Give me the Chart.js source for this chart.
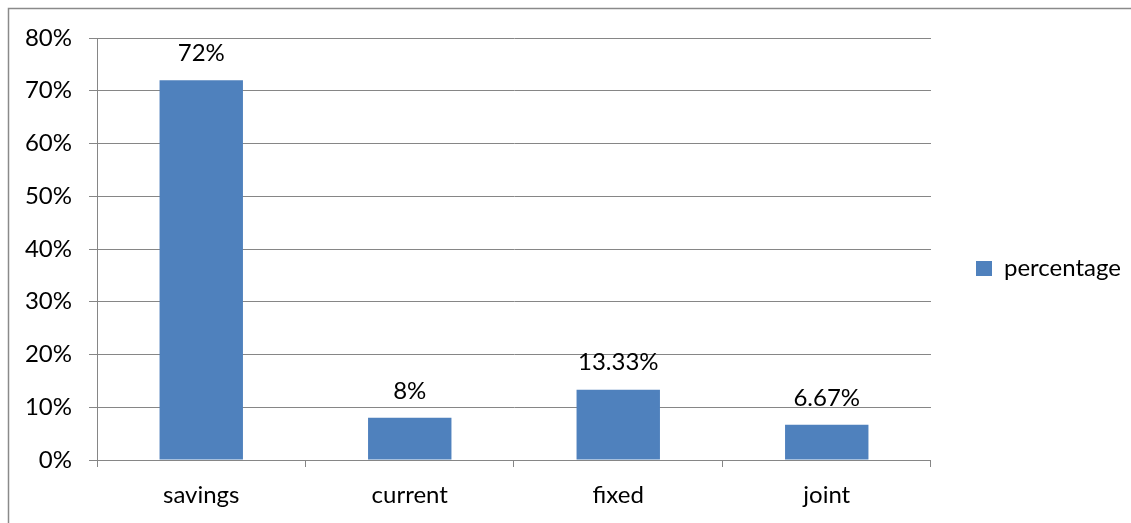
<!DOCTYPE html>
<html>
<head>
<meta charset="utf-8">
<script src="https://cdn.jsdelivr.net/npm/chart.js@4/dist/chart.umd.min.js"></script>
<style>
  html, body { margin:0; padding:0; background:#fff; overflow:hidden; }
  #wrap { position:absolute; left:0; top:0; width:1131px; height:523px; }
</style>
</head>
<body>
<div id="wrap"><canvas id="grafico" width="1131" height="523"></canvas></div>
<script>
  // dados
  const categorias = ["savings", "current", "fixed", "joint"];
  const percentagem = [72, 8, 13.33, 6.67];
  const rotulos = ["72%", "8%", "13.33%", "6.67%"];
  const ticksY = [0, 10, 20, 30, 40, 50, 60, 70, 80];

  const fonte = "Lato, 'Open Sans', sans-serif";
  const corGrade = '#868686';

  // moldura cinza em volta do gráfico
  const moldura = {
    id: 'moldura',
    beforeDraw(chart) {
      const c = chart.ctx;
      c.save();
      c.strokeStyle = '#8a8a8a';
      c.lineWidth = 1.5;
      c.strokeRect(8.5, 8.5, 1200, 600);
      c.restore();
    }
  };

  // sobe um pouco a legenda (no original fica mais alta)
  const subirLegenda = {
    id: 'subirLegenda',
    beforeDraw(chart) {
      const lg = chart.legend;
      if (!lg) return;
      lg.top -= 12;
      lg.bottom -= 12;
    }
  };

  // rótulos acima das barras
  const rotulosBarras = {
    id: 'rotulosBarras',
    afterDatasetsDraw(chart) {
      const c = chart.ctx;
      const meta = chart.getDatasetMeta(0);
      c.save();
      c.font = "24px " + fonte;
      c.fillStyle = '#000';
      c.textAlign = 'center';
      c.textBaseline = 'middle';
      meta.data.forEach((bar, i) => {
        c.fillText(rotulos[i], bar.x, bar.y - 27);
      });
      c.restore();
    }
  };

  new Chart(document.getElementById('grafico').getContext('2d'), {
    type: 'bar',
    data: {
      labels: categorias,
      datasets: [{
        label: 'percentage',
        data: percentagem,
        backgroundColor: '#4F81BD',
        barPercentage: 0.4,
        categoryPercentage: 1
      }]
    },
    options: {
      responsive: false,
      animation: false,
      layout: { padding: { top: 38, left: 0, right: 0, bottom: 0 } },
      plugins: {
        tooltip: { enabled: false },
        legend: {
          position: 'right',
          labels: {
            boxWidth: 16,
            boxHeight: 15,
            padding: 45,
            color: '#000',
            font: { family: fonte, size: 24 }
          }
        }
      },
      scales: {
        x: {
          offset: true,
          grid: { offset: true, drawOnChartArea: false, drawTicks: true, tickLength: 7, color: corGrade },
          border: { color: corGrade },
          ticks: { color: '#000', padding: 14, font: { family: fonte, size: 24 } },
          afterFit(s) { s.height = 63; }
        },
        y: {
          min: 0,
          max: 80,
          afterBuildTicks(s) { s.ticks = ticksY.map(v => ({ value: v })); },
          grid: { color: corGrade, tickLength: 8 },
          border: { color: corGrade },
          ticks: { color: '#000', padding: 17, font: { family: fonte, size: 24 }, callback: v => v + '%' },
          afterFit(s) { s.width = 97; }
        }
      }
    },
    plugins: [moldura, subirLegenda, rotulosBarras]
  });
</script>
</body>
</html>
